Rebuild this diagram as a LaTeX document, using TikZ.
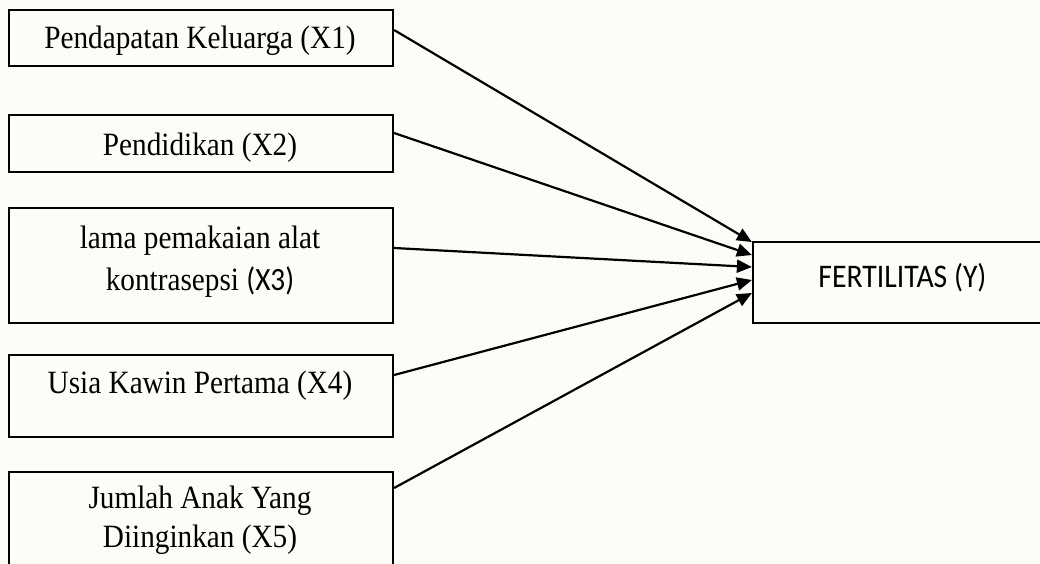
\documentclass[tikz,border=0pt]{standalone}
\usepackage{fontspec}
\setmainfont{Liberation Serif}
\newfontfamily\calfont{Carlito}
\usetikzlibrary{arrows.meta}
\definecolor{paper}{HTML}{FDFDF8}
% slightly condensed lettering
\newcommand{\narrow}[1]{\scalebox{0.9}[1]{#1}}
\begin{document}
\begin{tikzpicture}[x=1pt,y=-1pt,
  every node/.style={inner sep=0pt},
  varbox/.style={draw=black,line width=2.2pt,fill=paper,minimum width=384pt},
  vartext/.style={font=\fontsize{32.5}{40}\selectfont,anchor=base},
  link/.style={line width=2.2pt,-{Triangle[length=15pt,width=13pt]}}]
  % page background and frame
  \clip (0,0) rectangle (1040,563);
  \fill[paper] (0,0) rectangle (1040,563);

  % independent variables
  \node[varbox,minimum height=56pt]  (b1) at (201,38) {};
  \node[varbox,minimum height=57pt]  (b2) at (201,143.5) {};
  \node[varbox,minimum height=115pt] (b3) at (201,265.5) {};
  \node[varbox,minimum height=82pt]  (b4) at (201,396) {};
  \node[varbox,minimum height=108pt] (b5) at (201,526) {};

  % dependent variable
  \node[varbox,minimum width=299pt,minimum height=81pt] (y) at (902.5,282.5) {};

  % box labels
  \node[vartext] (t1) at (200,48) {\narrow{Pendapatan Keluarga (X1)}};
  \node[vartext] (t2) at (200,155) {\narrow{Pendidikan (X2)}};
  \node[vartext] (t3a) at (200,248) {\narrow{lama pemakaian alat}};
  \node[vartext] (t3b) at (200,290) {\narrow{kontrasepsi {\calfont (X3)}}};
  \node[vartext] (t4) at (200,393) {\narrow{Usia Kawin Pertama (X4)}};
  \node[vartext] (t5a) at (200,508) {\narrow{Jumlah Anak Yang}};
  \node[vartext] (t5b) at (200,547) {\narrow{Diinginkan (X5)}};
  \node[vartext,font=\calfont\fontsize{33}{40}\selectfont] (ty) at (902.5,287) {\narrow{FERTILITAS (Y)}};

  % influence arrows
  \draw[link] ([yshift=8pt]b1.east)    -- ([yshift=40.5pt]y.west);
  \draw[link] ([yshift=10.5pt]b2.east) -- ([yshift=27.5pt]y.west);
  \draw[link] ([yshift=17.5pt]b3.east) -- ([yshift=15.5pt]y.west);
  \draw[link] ([yshift=21pt]b4.east)   -- ([yshift=2.5pt]y.west);
  \draw[link] ([yshift=38pt]b5.east)   -- ([yshift=-10.5pt]y.west);
\end{tikzpicture}
\end{document}
